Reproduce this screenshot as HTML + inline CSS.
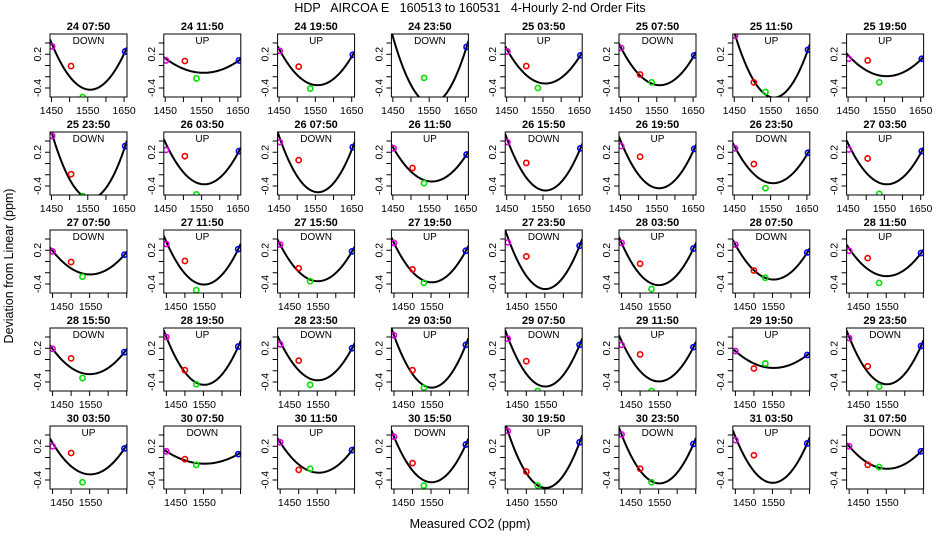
<!DOCTYPE html>
<html><head><meta charset="utf-8">
<style>
body{margin:0;background:#fff;}
svg{display:block;font-family:"Liberation Sans",sans-serif;}
</style></head>
<body>
<svg id="chart" width="936" height="540" viewBox="0 0 936 540">
<text x="470" y="12" text-anchor="middle" font-size="12.5" xml:space="preserve">HDP   AIRCOA E   160513 to 160531   4-Hourly 2-nd Order Fits</text>
<text x="470" y="528" text-anchor="middle" font-size="12.5">Measured CO2 (ppm)</text>
<text transform="translate(13,266) rotate(-90)" text-anchor="middle" font-size="12.5">Deviation from Linear (ppm)</text>
<g id="panels"></g>
</svg>
<script>
const titles = ["24 07:50","24 11:50","24 19:50","24 23:50","25 03:50","25 07:50","25 11:50","25 19:50",
"25 23:50","26 03:50","26 07:50","26 11:50","26 15:50","26 19:50","26 23:50","27 03:50",
"27 07:50","27 11:50","27 15:50","27 19:50","27 23:50","28 03:50","28 07:50","28 11:50",
"28 15:50","28 19:50","28 23:50","29 03:50","29 07:50","29 11:50","29 19:50","29 23:50",
"30 03:50","30 07:50","30 11:50","30 15:50","30 19:50","30 23:50","31 03:50","31 07:50"];
const directions = ["DOWN","UP","UP","DOWN","UP","DOWN","UP","UP",
"DOWN","UP","DOWN","UP","DOWN","UP","DOWN","UP",
"DOWN","UP","DOWN","UP","DOWN","UP","DOWN","UP",
"DOWN","UP","DOWN","UP","DOWN","UP","UP","DOWN",
"UP","DOWN","UP","DOWN","UP","DOWN","UP","DOWN"];
const xTopRows = [1452,1504,1536,1653];
const xBottomRows = [1417,1482,1522,1669];
const magentaY = [0.34,0.09,0.26,null,0.25,0.31,0.53,0.12, 0.49,0.24,0.38,0.27,0.38,0.31,0.27,0.25, 0.18,0.31,0.30,0.33,0.34,0.33,0.30,0.19, 0.19,0.40,0.27,0.43,0.37,0.26,0.15,0.38, 0.20,0.11,0.27,0.37,0.47,0.41,0.31,0.20];
const redY = [-0.01,0.08,-0.02,null,-0.01,-0.16,-0.30,0.09, -0.19,0.13,0.06,-0.08,0.01,0.12,-0.01,0.09, -0.01,0.01,-0.12,-0.14,0.09,-0.04,-0.16,0.06, 0.02,-0.19,-0.02,-0.19,-0.03,0.09,-0.16,-0.12, 0.08,-0.03,-0.22,-0.10,-0.25,-0.20,0.04,-0.13];
const greenY = [-0.56,-0.23,-0.41,-0.22,-0.40,-0.30,-0.47,-0.30, -0.58,-0.55,null,-0.35,null,null,-0.44,-0.54, -0.27,-0.51,-0.35,-0.38,null,-0.49,-0.29,-0.38, -0.33,-0.44,-0.45,-0.50,-0.56,-0.56,-0.07,-0.48, -0.44,-0.13,-0.20,-0.50,-0.50,-0.44,null,-0.17];
const blueY = [0.25,0.09,0.19,0.33,0.18,0.18,0.28,0.12, 0.31,0.22,0.29,0.16,0.27,0.26,0.19,0.22, 0.12,0.22,0.18,0.19,0.28,0.23,0.16,0.15, 0.13,0.23,0.20,0.26,0.26,0.22,0.08,0.24, 0.16,0.06,0.13,0.23,0.27,0.24,0.25,0.11];
const curveLeft = [0.37,0.12,0.27,0.47,0.27,0.31,0.55,0.17, 0.52,0.35,0.45,0.27,0.42,0.38,0.29,0.33, 0.19,0.35,0.30,0.33,0.43,0.33,0.30,0.23, 0.19,0.40,0.32,0.43,0.40,0.33,0.15,0.40, 0.26,0.11,0.27,0.37,0.47,0.41,0.37,0.20];
const curveMin = [-0.43,-0.13,-0.35,-0.68,-0.32,-0.35,-0.57,-0.19, -0.62,-0.37,-0.51,-0.32,-0.48,-0.44,-0.35,-0.37, -0.23,-0.41,-0.35,-0.37,-0.49,-0.42,-0.32,-0.26, -0.26,-0.45,-0.37,-0.50,-0.48,-0.39,-0.15,-0.44, -0.30,-0.11,-0.27,-0.44,-0.54,-0.46,-0.45,-0.20];
const curveRight = [0.25,0.09,0.19,0.33,0.18,0.18,0.28,0.12, 0.31,0.22,0.29,0.16,0.27,0.26,0.19,0.22, 0.12,0.22,0.18,0.19,0.28,0.23,0.16,0.15, 0.13,0.23,0.20,0.26,0.26,0.22,0.08,0.24, 0.16,0.06,0.13,0.23,0.27,0.24,0.25,0.11];
const yTicks = [-0.4,-0.2,0,0.2,0.4];
const yTickLabels = ["0.2","-0.4"];
const xTicksTop = [1450,1500,1550,1600,1650];
const xLabelsTop = [1450,1550,1650];
const xTicksBottom = [1417,1482,1547,1612,1677];
const xLabelsBottom = [1450,1550];

const NS = "http://www.w3.org/2000/svg";
const root = document.getElementById("panels");
function mk(tag, attrs, parent){const e=document.createElementNS(NS,tag);for(const k in attrs)e.setAttribute(k,attrs[k]);parent.appendChild(e);return e;}
const W=77,H=63,Y0=-0.56,Y1=0.56;
titles.forEach((t,i)=>{
  const r=Math.floor(i/8), c=i%8;
  const left=50+c*113.8, top=34+r*98;
  const top2 = r<2;
  const dom = top2?[1446,1658]:[1408,1678];
  const xs = top2?xTopRows:xBottomRows;
  const sx=v=>left+(v-dom[0])/(dom[1]-dom[0])*W;
  const sy=v=>top+(Y1-v)/(Y1-Y0)*H;
  const g=mk("g",{},root);
  
  
  const cp=mk("clipPath",{id:"cp"+i},g);
  mk("rect",{x:left,y:top,width:W,height:H},cp);
  const tt=mk("text",{x:left+W/2,y:top-4,"text-anchor":"middle","font-size":"11","font-weight":"bold"},g);
  tt.textContent=t;
  
  
  const dt=mk("text",{x:left+W/2,y:top+10,"text-anchor":"middle","font-size":"10"},g);
  dt.textContent=directions[i];
  
  
  // y axis
  yTicks.forEach(v=>mk("line",{x1:left-5,x2:left,y1:sy(v),y2:sy(v),stroke:"#000","stroke-width":1},g));
  yTickLabels.forEach(l=>{const e=mk("text",{transform:`translate(${left-9},${sy(+l)}) rotate(-90)`,"text-anchor":"middle","font-size":"10.5"},g);e.textContent=l;
    
    });
  // x axis
  (top2?xTicksTop:xTicksBottom).forEach(v=>mk("line",{x1:sx(v),x2:sx(v),y1:top+H,y2:top+H+5,stroke:"#000","stroke-width":1},g));
  (top2?xLabelsTop:xLabelsBottom).forEach(v=>{const e=mk("text",{x:sx(v),y:top+H+17,"text-anchor":"middle","font-size":"10.5"},g);e.textContent=v;
    
    });
  // curve
  const xL=xs[0],xR=xs[3],yL=curveLeft[i],k=curveMin[i],yR=curveRight[i];
  const rr=Math.sqrt(Math.max(yL-k,1e-6)/Math.max(yR-k,1e-6));
  const h=(xL+rr*xR)/(1+rr), a=(yR-k)/((xR-h)*(xR-h));
  let d="";
  for(let s=0;s<=80;s++){const x=dom[0]+(dom[1]-dom[0])*s/80;const y=k+a*(x-h)*(x-h);d+=(s?"L":"M")+sx(x).toFixed(2)+","+sy(y).toFixed(2);}
  const cv=mk("path",{d:d,fill:"none",stroke:"#000","stroke-width":2,"clip-path":`url(#cp${i})`},g);
  
  
  // points
  const ser=[[magentaY,"#e000e0"],[redY,"#f00000"],[greenY,"#00e000"],[blueY,"#0000f0"]];
  ser.forEach((s,j)=>{const v=s[0][i]; if(v===null) return;
    const p=mk("circle",{cx:sx(xs[j]),cy:sy(v),r:2.6,fill:"none",stroke:s[1],"stroke-width":1.6,"clip-path":`url(#cp${i})`},g);
    
    });
  const box=mk("rect",{x:left,y:top,width:W,height:H,fill:"none",stroke:"#000","stroke-width":1},g);
  
  
});
</script>
</body></html>
